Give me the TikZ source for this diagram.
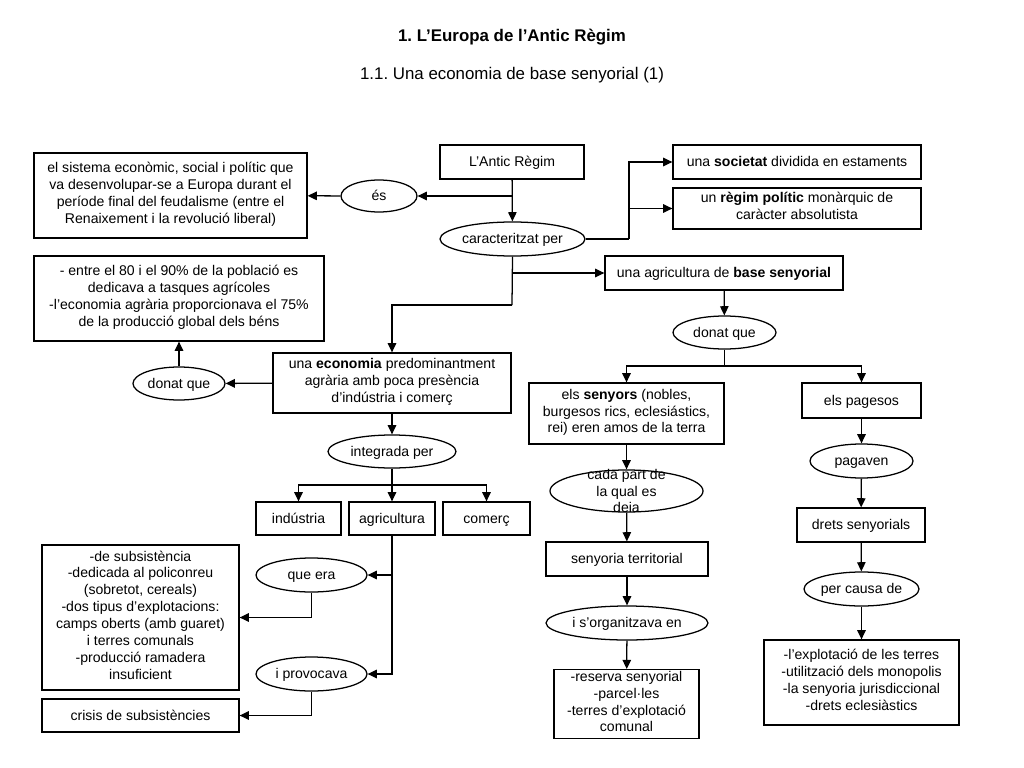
\documentclass[tikz,border=0pt]{standalone}
\usepackage{fontspec}
\setmainfont{Liberation Sans}
\frenchspacing
\usetikzlibrary{arrows.meta,shapes.geometric}

\tikzset{
  box/.style={draw, line width=0.9pt, align=center, inner sep=1pt, font=\fontsize{10}{12}\selectfont,
    execute at begin node={\rule{0pt}{10.5pt}}, execute at end node=\strut},
  oval/.style={draw, ellipse, line width=0.9pt, align=center, inner sep=0pt, font=\fontsize{10}{12}\selectfont,
    execute at begin node={\rule{0pt}{10.5pt}}, execute at end node=\strut},
  wh/.style 2 args={minimum width=#1*0.025cm, minimum height=#2*0.025cm},
  arr/.style={line width=0.9pt, -{Triangle[length=6.5pt,width=6pt]}},
  conn/.style={line width=0.9pt},
}

\begin{document}
\begin{tikzpicture}[x=0.025cm,y=-0.025cm]
    \useasboundingbox (0,0) rectangle (1024,768);
    \node[font=\bfseries\fontsize{12}{14}\selectfont] (title) at (512,37) {1. L’Europa de l’Antic Règim};
    \node[font=\fontsize{12}{14}\selectfont] (subtitle) at (512,75) {1.1. Una economia de base senyorial (1)};

    \node[box, wh={144}{34}] (antic) at (512,162) {L’Antic Règim};
    \node[box, wh={273}{85}] (def) at (170.5,195.5) {el sistema econòmic, social i polític que\\va desenvolupar-se a Europa durant el\\període final del feudalisme (entre el\\Renaixement i la revolució liberal)};
    \node[oval, wh={76}{32}] (es) at (379,196) {és};
    \node[oval, wh={145}{34}] (caract) at (512.5,239) {caracteritzat per};
    \node[box, wh={248}{34}] (soc) at (797,162) {una \textbf{societat} dividida en estaments};
    \node[box, wh={248}{41}] (reg) at (797,208.5) {un \textbf{règim polític} monàrquic de\\caràcter absolutista};
    \node[box, wh={238}{34}] (agri) at (724,273) {una agricultura de \textbf{base senyorial}};
    \node[box, wh={290}{85}] (pct) at (179,298.5) {- entre el 80 i el 90\% de la població es\\dedicava a tasques agrícoles\\-l’economia agrària proporcionava el 75\%\\de la producció global dels béns};
    \node[oval, wh={92}{33}] (donat1) at (179,383.5) {donat que};
    \node[box, wh={238}{60}] (econ) at (392,383) {una \textbf{economia} predominantment\\agrària amb poca presència\\d’indústria i comerç};
    \node[oval, wh={128}{33}] (integ) at (392,451.5) {integrada per};
    \node[box, wh={85}{33}] (ind) at (298.5,518.5) {indústria};
    \node[box, wh={86}{33}] (agr) at (392,518.5) {agricultura};
    \node[box, wh={87}{33}] (com) at (486.5,518.5) {comerç};
    \node[oval, wh={111}{34}] (queera) at (311.5,575) {que era};
    \node[oval, wh={111}{34}] (iprov) at (311.5,674) {i provocava};
    \node[box, wh={197}{145}] (subs) at (140.5,617.5) {-de subsistència\\-dedicada al policonreu\\(sobretot, cereals)\\-dos tipus d’explotacions:\\camps oberts (amb guaret)\\i terres comunals\\-producció ramadera\\insuficient};
    \node[box, wh={197}{33}] (crisis) at (140.5,715.5) {crisis de subsistències};

    \node[oval, wh={103}{33}] (donat2) at (724.5,332.5) {donat que};
    \node[box, wh={195}{61}] (senyors) at (626.5,413.5) {els \textbf{senyors} (nobles,\\burgesos rics, eclesiástics,\\rei) eren amos de la terra};
    \node[box, wh={119}{35}] (pagesos) at (861.5,400.5) {els pagesos};
    \node[draw, ellipse, line width=0.9pt, inner sep=0pt, wh={153}{42}] (cada) at (626.5,491) {};
    \node[align=center, font=\fontsize{10}{12}\selectfont, inner sep=0pt] (cadatext) at (cada) {cada part de\\la qual es\\deia};
    \node[oval, wh={103}{34}] (pagaven) at (861.5,461) {pagaven};
    \node[box, wh={128}{34}] (drets) at (861,525) {drets senyorials};
    \node[oval, wh={111}{34}] (perc) at (861.5,589) {per causa de};
    \node[box, wh={195}{85}] (expl) at (861.5,682.5) {-l’explotació de les terres\\-utilització dels monopolis\\-la senyoria jurisdiccional\\-drets eclesiàstics};
    \node[box, wh={162}{34}] (senyt) at (627,559) {senyoria territorial};
    \node[oval, wh={162}{34}] (org) at (627,623) {i s’organitzava en};
    \node[box, wh={145}{68}] (reserva) at (626.5,704) {-reserva senyorial\\-parcel·les\\-terres d’explotació\\comunal};

    \coordinate (cr) at (629,239);
    \coordinate (cl) at (512,305);
    \coordinate (ib) at (392,485);
    \coordinate (db) at (724.5,366);

    \draw[arr] (antic) -- (caract);
    \draw[arr] (antic.south |- es.east) -- (es);
    \draw[arr] (es) -- (def);
    \draw[conn] (caract.east) -- (cr);
    \draw[arr] (cr) |- (soc);
    \draw[arr] (cr) |- (reg);
    \draw[arr] (caract.south) |- (agri);
    \draw[conn] (caract.south) -- (cl);
    \draw[arr] (cl) -| (econ.north);
    \draw[arr] (econ) -- (donat1);
    \draw[arr] (donat1) -- (pct);
    \draw[arr] (econ) -- (integ);
    \draw[conn] (integ.south) -- (ib);
    \draw[arr] (ib) -| (ind.north);
    \draw[arr] (ib) -| (com.north);
    \draw[arr] (ib) -- (agr);
    \draw[arr] (agr.south) |- (queera);
    \draw[arr] (agr.south) |- (iprov);
    \draw[arr] (queera.south) |- (subs);
    \draw[arr] (iprov.south) |- (crisis);

    \draw[arr] (agri) -- (donat2);
    \draw[conn] (donat2.south) -- (db);
    \draw[arr] (db) -| (senyors.north);
    \draw[arr] (db) -| (pagesos.north);
    \draw[arr] (senyors) -- (cada);
    \draw[arr] (cada) -- (senyt);
    \draw[arr] (senyt) -- (org);
    \draw[arr] (org) -- (reserva);
    \draw[arr] (pagesos) -- (pagaven);
    \draw[arr] (pagaven) -- (drets);
    \draw[arr] (drets) -- (perc);
    \draw[arr] (perc) -- (expl);
\end{tikzpicture}
\end{document}
